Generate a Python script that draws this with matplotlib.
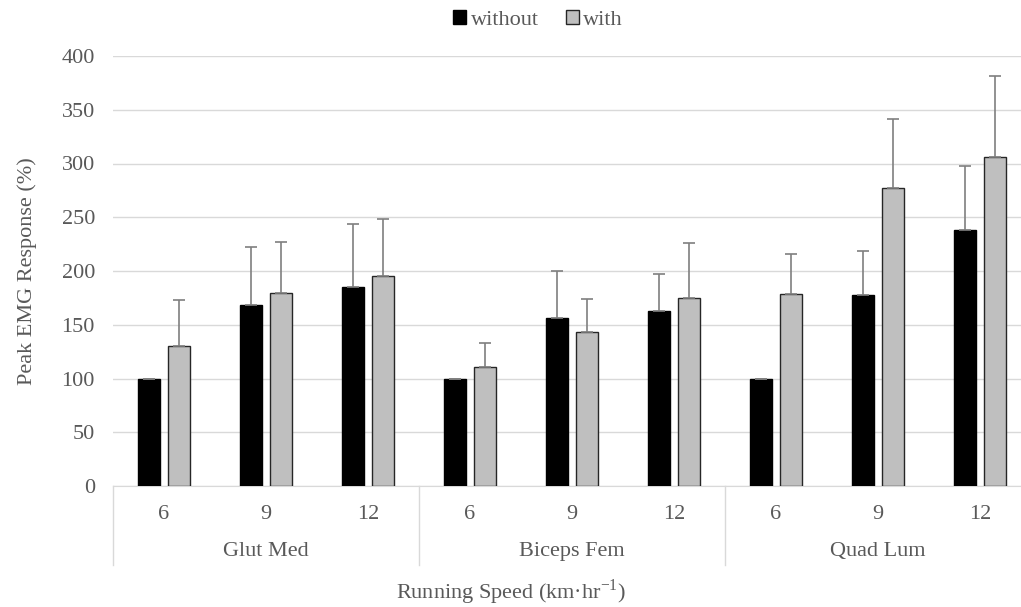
import numpy as np
import matplotlib
matplotlib.use("Agg")
import matplotlib.pyplot as plt
from matplotlib.transforms import blended_transform_factory

# data
muscles = ["Glut Med", "Biceps Fem", "Quad Lum"]
speeds = ["6", "9", "12"]
without_vals = [100, 168, 185, 100, 156, 163, 100, 178, 238]
without_err = [0, 54, 59, 0, 44, 34, 0, 41, 60]
with_vals = [130, 180, 195, 111, 143, 175, 179, 277, 306]
with_err = [43, 47, 53, 22, 31, 51, 37, 64, 75]

TXT = "#595959"
FS = 16
plt.rcParams["font.family"] = ["Liberation Serif", "DejaVu Serif"]
plt.rcParams["mathtext.fontset"] = "custom"
plt.rcParams["mathtext.rm"] = "Liberation Serif"

fig = plt.figure(figsize=(10.21, 6.07), dpi=100)
ax = fig.add_axes([113 / 1021, 1 - 486 / 607, 918 / 1021, 430 / 607])

x = np.arange(len(without_vals))
w = 0.22
off = 0.145
ekw = dict(ecolor="#7f7f7f", elinewidth=1.2, capsize=4, capthick=1.2)
ax.bar(x - off, without_vals, w, color="black", edgecolor="black", linewidth=1,
       yerr=[np.zeros(len(x)), without_err], error_kw=ekw, label="without", zorder=3)
ax.bar(x + off, with_vals, w, color="#bfbfbf", edgecolor="#262626", linewidth=1,
       yerr=[np.zeros(len(x)), with_err], error_kw=ekw, label="with", zorder=3)

ax.set_ylim(0, 400)
ax.set_xlim(-0.5, len(x) - 0.5)
ax.set_yticks(range(0, 401, 50))
ax.yaxis.grid(True, color="#d9d9d9", linewidth=1)
ax.set_axisbelow(True)
for s in ["top", "right", "left"]:
    ax.spines[s].set_visible(False)
ax.spines["bottom"].set_color("#d9d9d9")
ax.tick_params(axis="y", length=0, pad=13, labelsize=FS, labelcolor=TXT)
ax.set_xticks(x)
ax.set_xticklabels(speeds * len(muscles))
ax.tick_params(axis="x", length=0, pad=14, labelsize=FS, labelcolor=TXT)

trans = blended_transform_factory(ax.transData, ax.transAxes)
n = len(speeds)
for i, m in enumerate(muscles):
    ax.text(i * n + (n - 1) / 2, -0.152, m, transform=trans, ha="center", va="center",
            fontsize=FS, color=TXT)
for b in range(len(muscles) + 1):
    ax.plot([b * n - 0.5] * 2, [0, -0.184], transform=trans, color="#d9d9d9",
            linewidth=1, clip_on=False)

ax.set_ylabel("Peak EMG Response (%)", fontsize=FS, color=TXT, labelpad=18)
fig.text(0.5, 1 - 592 / 607, "Running Speed (km\u00b7hr$^{-1}$)", ha="center",
         va="center", fontsize=FS, color=TXT)

leg = fig.legend(loc="center", bbox_to_anchor=(0.527, 1 - 20 / 607), ncol=2, frameon=False,
                 fontsize=FS, handlelength=0.6, handleheight=0.6, handletextpad=0.2,
                 columnspacing=1.2)
for t in leg.get_texts():
    t.set_color(TXT)

fig.savefig("out.png", dpi=100)
